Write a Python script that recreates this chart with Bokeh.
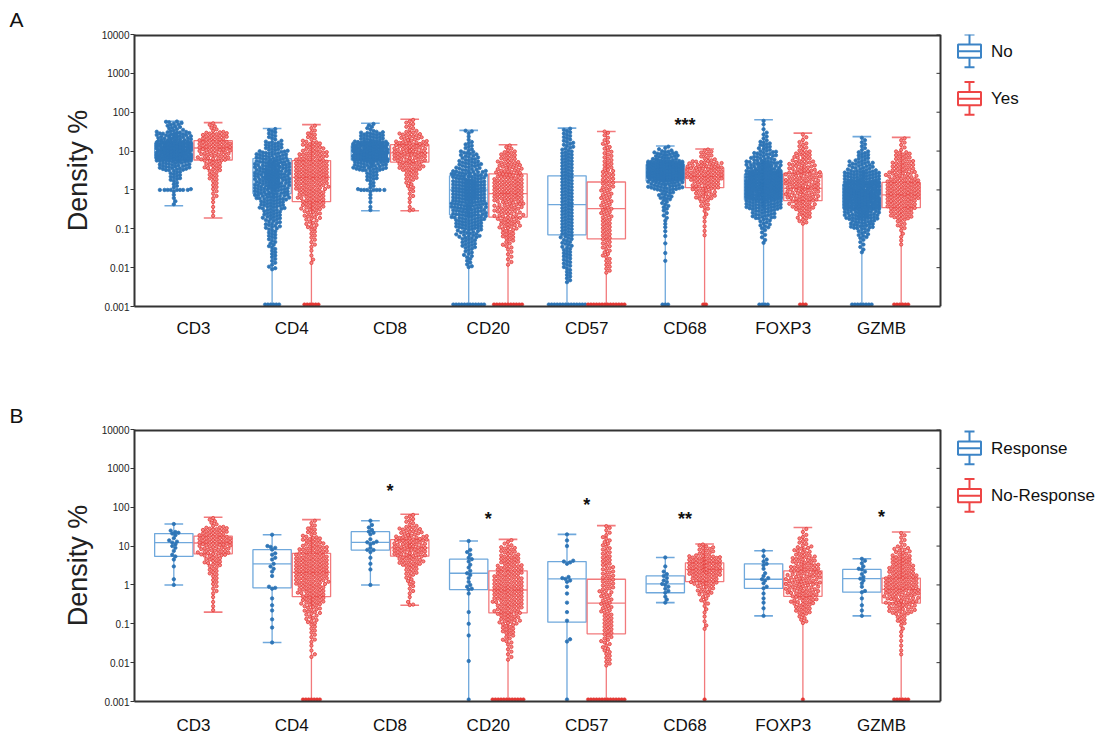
import math
from bokeh.plotting import figure
from bokeh.models import Range1d, FixedTicker, CustomJSTickFormatter
from bokeh.layouts import column
from bokeh.embed import file_html
from bokeh.resources import INLINE
from bokeh.core.properties import value

# ---------------- data ----------------
markers = ["CD3", "CD4", "CD8", "CD20", "CD57", "CD68", "FOXP3", "GZMB"]
y_ticks = [0.001, 0.01, 0.1, 1, 10, 100, 1000, 10000]
# histogram bins in log10 units (0.25 decade wide) from 0.001 to 100
bin_log_edges = [-3.0, -2.75, -2.5, -2.25, -2.0, -1.75, -1.5, -1.25, -1.0, -0.75, -0.5,
                 -0.25, 0.0, 0.25, 0.5, 0.75, 1.0, 1.25, 1.5, 1.75, 2.0]

# Panel A : No (blue) / Yes (red)
a_groups = ["No", "Yes"]
a_no_min = [0.39, 0, 0.29, 0, 0, 0, 0, 0]
a_no_q1 = [6.6, 0.81, 5.9, 0.23, 0.07, 1.7, 0.56, 0.34]
a_no_med = [11, 2.5, 9.5, 1.0, 0.42, 3.0, 1.2, 0.7]
a_no_q3 = [16, 6.4, 13.8, 2.3, 2.3, 4.5, 2.5, 1.4]
a_no_max = [58, 38, 52, 34, 39, 13.5, 64, 23.5]
a_no_low = [0.39, 0.0088, 0.29, 0.0103, 0.004, 0.0126, 0.04, 0.023]
a_no_zeros = [0, 6, 0, 12, 14, 3, 4, 8]
a_no_ones = [8, 0, 7, 0, 0, 0, 0, 0]
a_no_counts = [
    [0, 0, 0, 0, 0, 0, 0, 0, 0, 0, 2, 3, 6, 12, 30, 90, 90, 40, 14, 2],
    [0, 0, 0, 2, 5, 6, 7, 9, 14, 18, 25, 35, 45, 50, 45, 30, 18, 8, 3, 0],
    [0, 0, 0, 0, 0, 0, 0, 0, 0, 1, 2, 3, 6, 12, 35, 100, 70, 25, 6, 0],
    [0, 0, 0, 1, 5, 8, 14, 20, 28, 35, 40, 45, 45, 35, 22, 16, 8, 3, 2, 0],
    [0, 0, 3, 6, 8, 9, 10, 12, 12, 12, 12, 12, 12, 12, 12, 12, 10, 8, 3, 0],
    [0, 0, 0, 0, 1, 1, 1, 2, 3, 4, 7, 14, 35, 110, 90, 25, 4, 0, 0, 0],
    [0, 0, 0, 0, 0, 0, 2, 4, 10, 22, 40, 70, 80, 70, 45, 22, 12, 5, 2, 1],
    [0, 0, 0, 0, 0, 2, 4, 10, 25, 45, 80, 90, 70, 40, 22, 12, 5, 2, 0, 0],
]
a_yes_min = [0.19, 0, 0.29, 0, 0, 0, 0, 0]
a_yes_q1 = [5.9, 0.5, 5.2, 0.2, 0.055, 1.14, 0.53, 0.35]
a_yes_med = [12, 2.1, 9, 0.8, 0.33, 2.2, 1.1, 0.75]
a_yes_q3 = [18.5, 5.7, 14.6, 2.6, 1.6, 3.7, 2.7, 1.56]
a_yes_max = [54, 48, 66, 14.6, 32, 11.3, 29, 22.5]
a_yes_low = [0.19, 0.012, 0.29, 0.011, 0.007, 0.06, 0.13, 0.035]
a_yes_zeros = [0, 6, 0, 11, 14, 2, 3, 6]
a_yes_counts = [
    [0, 0, 0, 0, 0, 0, 0, 0, 0, 2, 2, 4, 5, 8, 14, 24, 28, 22, 6, 0],
    [0, 0, 0, 0, 2, 2, 4, 5, 9, 13, 19, 22, 26, 28, 27, 23, 16, 8, 3, 0],
    [0, 0, 0, 0, 0, 0, 0, 0, 0, 2, 2, 4, 6, 10, 20, 28, 28, 18, 7, 2],
    [0, 0, 0, 0, 3, 4, 7, 11, 17, 20, 23, 25, 25, 23, 19, 13, 4, 0, 0, 0],
    [0, 0, 0, 3, 5, 6, 7, 8, 8, 9, 9, 9, 10, 10, 8, 7, 6, 4, 1, 0],
    [0, 0, 0, 0, 0, 0, 0, 2, 2, 3, 7, 16, 22, 30, 28, 10, 2, 0, 0, 0],
    [0, 0, 0, 0, 0, 0, 0, 0, 4, 11, 20, 26, 28, 26, 20, 14, 7, 3, 0, 0],
    [0, 0, 0, 0, 0, 0, 2, 3, 7, 18, 24, 28, 27, 23, 18, 13, 4, 2, 0, 0],
]
a_stars = [(5, "***", 53)]

# Panel B : Response (blue) / No-Response (red)
b_groups = ["Response", "No-Response"]
b_r_min = [1.0, 0.033, 1.0, 0, 0, 0.35, 0.16, 0.16]
b_r_q1 = [5.4, 0.84, 7.9, 0.76, 0.11, 0.63, 0.82, 0.65]
b_r_med = [12.3, 3.5, 12.5, 2.0, 1.43, 1.06, 1.4, 1.45]
b_r_q3 = [21, 8.1, 23.5, 4.6, 4.0, 1.7, 3.5, 2.5]
b_r_max = [37, 19.6, 45, 13.5, 20, 5.1, 7.6, 4.7]
b_r_zeros = [0, 0, 0, 1, 1, 0, 0, 0]
b_r_points = [
    [37, 25, 23, 22, 21, 19, 16, 14, 13, 12.3, 11, 10, 9, 7.5, 6, 5.4, 4.5, 3, 1.4, 1.0],
    [19.6, 10, 9.5, 9, 8.1, 6.5, 6, 5, 4.5, 3.5, 3, 2.6, 2.2, 1.7, 0.9, 0.84, 0.8, 0.45,
     0.3, 0.22, 0.13, 0.08, 0.033],
    [45, 35, 30, 26, 23.5, 22, 20, 15, 13, 12.5, 12, 11, 9, 8, 7.9, 7, 5, 3.5, 2.5, 1.0],
    [13.5, 8, 7, 6, 5, 4.6, 4, 3.3, 2.8, 2.3, 2.0, 1.8, 1.5, 1.2, 1.0, 0.9, 0.8, 0.76,
     0.6, 0.2, 0.1, 0.05, 0.011],
    [20, 14, 10, 4.2, 4.0, 3.8, 3.5, 1.6, 1.5, 1.43, 1.3, 1.2, 0.9, 0.6, 0.35, 0.2, 0.12,
     0.04, 0.035],
    [5.1, 3.0, 2.2, 1.9, 1.7, 1.5, 1.3, 1.2, 1.06, 1.0, 0.9, 0.8, 0.7, 0.63, 0.5, 0.42, 0.35],
    [7.6, 5.5, 4.5, 4.0, 3.5, 3.2, 2.6, 2.0, 1.7, 1.5, 1.4, 1.3, 1.1, 0.9, 0.82, 0.6, 0.45,
     0.35, 0.25, 0.16],
    [4.7, 4.2, 3.6, 3.0, 2.6, 2.5, 2.2, 1.9, 1.6, 1.45, 1.3, 1.1, 0.9, 0.7, 0.65, 0.45, 0.3,
     0.22, 0.16],
]
b_nr_min = [0.2, 0, 0.3, 0, 0, 0, 0, 0]
b_nr_q1 = [6.3, 0.5, 5.5, 0.19, 0.055, 1.22, 0.51, 0.34]
b_nr_med = [12, 2.1, 9, 0.74, 0.34, 2.5, 1.13, 0.77]
b_nr_q3 = [18, 6.5, 14.6, 2.3, 1.4, 3.7, 2.3, 1.5]
b_nr_max = [55, 48, 66, 14.9, 33.5, 11.3, 30, 23]
b_nr_low = [0.2, 0.013, 0.3, 0.011, 0.008, 0.067, 0.1, 0.015]
b_nr_zeros = [0, 7, 0, 12, 14, 1, 1, 6]
b_nr_counts = [
    [0, 0, 0, 0, 0, 0, 0, 0, 0, 2, 2, 4, 5, 8, 14, 24, 28, 22, 6, 0],
    [0, 0, 0, 0, 2, 2, 4, 5, 9, 13, 19, 22, 26, 28, 27, 23, 16, 8, 3, 0],
    [0, 0, 0, 0, 0, 0, 0, 0, 0, 2, 2, 4, 6, 10, 20, 28, 28, 18, 7, 2],
    [0, 0, 0, 0, 3, 4, 7, 11, 17, 21, 24, 25, 23, 21, 17, 13, 4, 0, 0, 0],
    [0, 0, 0, 2, 5, 6, 7, 8, 8, 9, 9, 10, 10, 9, 8, 7, 6, 4, 1, 0],
    [0, 0, 0, 0, 0, 0, 0, 2, 2, 3, 6, 13, 22, 31, 30, 12, 2, 0, 0, 0],
    [0, 0, 0, 0, 0, 0, 0, 0, 6, 13, 20, 26, 26, 24, 19, 13, 7, 3, 0, 0],
    [0, 0, 0, 0, 1, 2, 2, 3, 8, 20, 26, 28, 26, 21, 17, 12, 4, 2, 0, 0],
]
b_stars = [(2, "*", 295), (3, "*", 55), (4, "*", 126), (5, "**", 55), (7, "*", 64)]

# ---------------- styling / geometry ----------------
FONT = "Liberation Sans"
BLUE_PT = "#2E75B6"
BLUE_LN = "#6FA8DC"
BLUE_LEG = "#3C84C6"
RED_PT = "#E53935"
RED_FILL = "#F28686"
RED_LN = "#F27A7C"
RED_LEG = "#EE4545"
AX = "#333333"

FIG_W = 1104
BORDER_L = 134
FRAME_W = FIG_W - BORDER_L
FRAME_H = 272
X0, X1 = -0.6, 7.6            # plot box spans X0..X1, legend lives to the right of X1
PX_CAT = 806 / (X1 - X0)
XEND = X0 + FRAME_W / PX_CAT
PX_DEC = FRAME_H / 7.0
BOX_W, OFFS, CAP_W = 0.39, 0.2, 0.19
HALF_PX = BOX_W * PX_CAT / 2 - 1


def values_from_counts(counts, low, high, ones):
    vals = []
    llo, lhi = math.log10(low), math.log10(high)
    for i, n in enumerate(counts):
        if n == 0:
            continue
        a = max(bin_log_edges[i], llo)
        b = min(bin_log_edges[i + 1], lhi)
        if b <= a:
            a = b = min(max(a, llo), lhi)
        for k in range(n):
            vals.append(10 ** (a + (k + 0.5) / n * (b - a)))
    vals += [1.0] * ones
    return vals


def swarm(vals, dist):
    ys = [math.log10(v) * PX_DEC for v in vals]
    order = sorted(range(len(ys)), key=lambda i: ys[i])
    step = dist * 0.5
    cands = [0.0]
    k = 1
    while k * step <= HALF_PX:
        cands += [k * step, -k * step]
        k += 1
    out = [0.0] * len(ys)
    active = []
    for i in order:
        y = ys[i]
        active = [(px, py) for (px, py) in active if y - py < dist]
        chosen, best_c, best_s = None, 0.0, None
        for c in cands:
            s = 0
            for (px, py) in active:
                dx, dy = c - px, y - py
                if dx * dx + dy * dy < dist * dist:
                    s += 1
            if s == 0:
                chosen = c
                break
            if best_s is None or s < best_s:
                best_s, best_c = s, c
        if chosen is None:
            chosen = best_c
        out[i] = chosen / PX_CAT
        active.append((chosen, y))
    return out


def ylog(offset_px):
    # data value that lies offset_px below the top of the frame
    return 10 ** (4 - offset_px / PX_DEC)


def make_panel(height, top, bottom, standoff, letter, letter_standoff):
    p = figure(width=FIG_W, height=height, x_range=Range1d(X0, XEND),
               y_range=Range1d(0.001, 10000), y_axis_type="log",
               output_backend="svg", toolbar_location=None,
               min_border_left=BORDER_L, min_border_right=0,
               min_border_top=top, min_border_bottom=bottom)
    p.xgrid.visible = False
    p.ygrid.visible = False
    p.outline_line_color = None
    p.title.text = letter
    p.title.align = "left"
    p.title.offset = -(BORDER_L - 9)
    p.title.text_font = FONT
    p.title.text_font_size = "21px"
    p.title.text_font_style = "normal"
    p.title.text_color = "#111111"
    p.title.standoff = letter_standoff
    p.title.vertical_align = "bottom"
    xa = p.xaxis[0]
    xa.bounds = (X0, X1)
    xa.ticker = FixedTicker(ticks=list(range(len(markers))))
    xa.major_label_overrides = {i: m for i, m in enumerate(markers)}
    xa.major_tick_line_color = None
    xa.minor_tick_line_color = None
    xa.axis_line_color = AX
    xa.axis_line_width = 2
    xa.major_label_text_font = FONT
    xa.major_label_text_font_size = "17px"
    xa.major_label_text_color = "#111111"
    xa.major_label_standoff = standoff
    ya = p.yaxis[0]
    ya.ticker = FixedTicker(ticks=y_ticks)
    ya.formatter = CustomJSTickFormatter(
        code="return tick >= 1 ? Math.round(tick).toString() : parseFloat(tick.toPrecision(1)).toString();")
    ya.minor_tick_line_color = None
    ya.major_tick_out = 4
    ya.major_tick_in = 0
    ya.major_tick_line_color = AX
    ya.axis_line_color = AX
    ya.axis_line_width = 2
    ya.major_label_standoff = 1
    ya.major_label_text_font = FONT
    ya.major_label_text_font_size = "10px"
    ya.major_label_text_color = "#222222"
    ya.axis_label = "Density %"
    ya.axis_label_text_font = FONT
    ya.axis_label_text_font_size = "27px"
    ya.axis_label_text_font_style = "normal"
    ya.axis_label_text_color = "#222222"
    ya.axis_label_standoff = 6
    # top and right border of the plot box, with inward ticks on the right
    p.segment(x0=[X0], x1=[X1], y0=[10000], y1=[10000], line_color=AX, line_width=4)
    p.segment(x0=[X1], x1=[X1], y0=[0.001], y1=[10000], line_color=AX, line_width=2)
    p.segment(x0=[X1 - 4 / PX_CAT] * len(y_ticks), x1=[X1] * len(y_ticks), y0=y_ticks, y1=y_ticks,
              line_color=AX, line_width=1)
    return p


def draw_group(p, k, side, q1, med, q3, lo, hi, pts, zeros, pcol, pfill, lcol, dot, dist):
    xc = k + side * OFFS
    hw = BOX_W / 2
    p.quad(left=[xc - hw], right=[xc + hw], bottom=[q1], top=[q3],
           fill_color=None, line_color=lcol, line_width=1.3)
    p.segment(x0=[xc - hw], x1=[xc + hw], y0=[med], y1=[med], line_color=lcol, line_width=1.3)
    bottom = lo if lo > 0 else 1e-4
    p.segment(x0=[xc, xc], x1=[xc, xc], y0=[q3, q1], y1=[hi, bottom], line_color=lcol, line_width=1.3)
    cx0 = [xc - CAP_W / 2]
    cx1 = [xc + CAP_W / 2]
    cy = [hi]
    if lo > 0:
        cx0.append(xc - CAP_W / 2)
        cx1.append(xc + CAP_W / 2)
        cy.append(lo)
    p.segment(x0=cx0, x1=cx1, y0=cy, y1=cy, line_color=lcol, line_width=1.6)
    if pts:
        offs = swarm(pts, dist)
        p.scatter(x=[xc + o for o in offs], y=pts, size=dot, fill_color=pfill,
                  line_color=pcol, line_width=0.8)
    if zeros > 0:
        wpx = min((zeros - 1) * 2.8, 2 * HALF_PX)
        zx = [xc + ((-wpx / 2 + j * wpx / (zeros - 1)) if zeros > 1 else 0) / PX_CAT for j in range(zeros)]
        zy = [10 ** (-3 + 2.0 / PX_DEC)] * zeros
        p.scatter(x=zx, y=zy, size=3.6, fill_color=pcol, line_color=pcol, line_width=0.5)


def draw_stars(p, stars):
    p.text(x=[s[0] for s in stars], y=[s[2] for s in stars], text=[s[1] for s in stars],
           text_font=value(FONT), text_font_size="18px", text_font_style="bold",
           text_align="center", text_baseline="middle", text_color="#111111", y_offset=2)


def draw_legend(p, labels, shift):
    cx = X1 + 29 / PX_CAT
    bw = 11.5 / PX_CAT
    cw = 5 / PX_CAT
    for j, (lab, col) in enumerate(zip(labels, [BLUE_LEG, RED_LEG])):
        t = shift + j * 47.5
        p.quad(left=[cx - bw], right=[cx + bw], top=[ylog(t + 10)], bottom=[ylog(t + 23.3)],
               fill_color=None, line_color=col, line_width=2)
        p.segment(x0=[cx - bw, cx, cx, cx - cw, cx - cw], x1=[cx + bw, cx, cx, cx + cw, cx + cw],
                  y0=[ylog(t + 16.7), ylog(t), ylog(t + 23.3), ylog(t), ylog(t + 32.7)],
                  y1=[ylog(t + 16.7), ylog(t + 10), ylog(t + 32.7), ylog(t), ylog(t + 32.7)],
                  line_color=col, line_width=2)
        p.text(x=[X1 + 50.5 / PX_CAT], y=[ylog(t + 16.5)], text=[lab], text_font=value(FONT),
               text_font_size="17px", text_baseline="middle", text_align="left", text_color="#111111")


# ---------------- panel A ----------------
pA = make_panel(384, 34, 78, 6, "A", 7)
for k in range(len(markers)):
    draw_group(pA, k, -1, a_no_q1[k], a_no_med[k], a_no_q3[k], a_no_min[k], a_no_max[k],
               values_from_counts(a_no_counts[k], a_no_low[k], a_no_max[k], a_no_ones[k]),
               a_no_zeros[k], BLUE_PT, BLUE_PT, BLUE_LN, 3.4, 3.1)
    draw_group(pA, k, 1, a_yes_q1[k], a_yes_med[k], a_yes_q3[k], a_yes_min[k], a_yes_max[k],
               values_from_counts(a_yes_counts[k], a_yes_low[k], a_yes_max[k], 0),
               a_yes_zeros[k], RED_PT, RED_FILL, RED_LN, 3.3, 3.4)
draw_stars(pA, a_stars)
draw_legend(pA, a_groups, 0)

# ---------------- panel B ----------------
pB = make_panel(353, 45, 36, 8, "B", 6)
for k in range(len(markers)):
    draw_group(pB, k, -1, b_r_q1[k], b_r_med[k], b_r_q3[k], b_r_min[k], b_r_max[k],
               b_r_points[k], b_r_zeros[k], BLUE_PT, BLUE_PT, BLUE_LN, 3.4, 3.1)
    draw_group(pB, k, 1, b_nr_q1[k], b_nr_med[k], b_nr_q3[k], b_nr_min[k], b_nr_max[k],
               values_from_counts(b_nr_counts[k], b_nr_low[k], b_nr_max[k], 0),
               b_nr_zeros[k], RED_PT, RED_FILL, RED_LN, 3.3, 3.4)
draw_stars(pB, b_stars)
draw_legend(pB, b_groups, 2)

layout = column(pA, pB)
open("out.html", "w").write(file_html(layout, INLINE))
